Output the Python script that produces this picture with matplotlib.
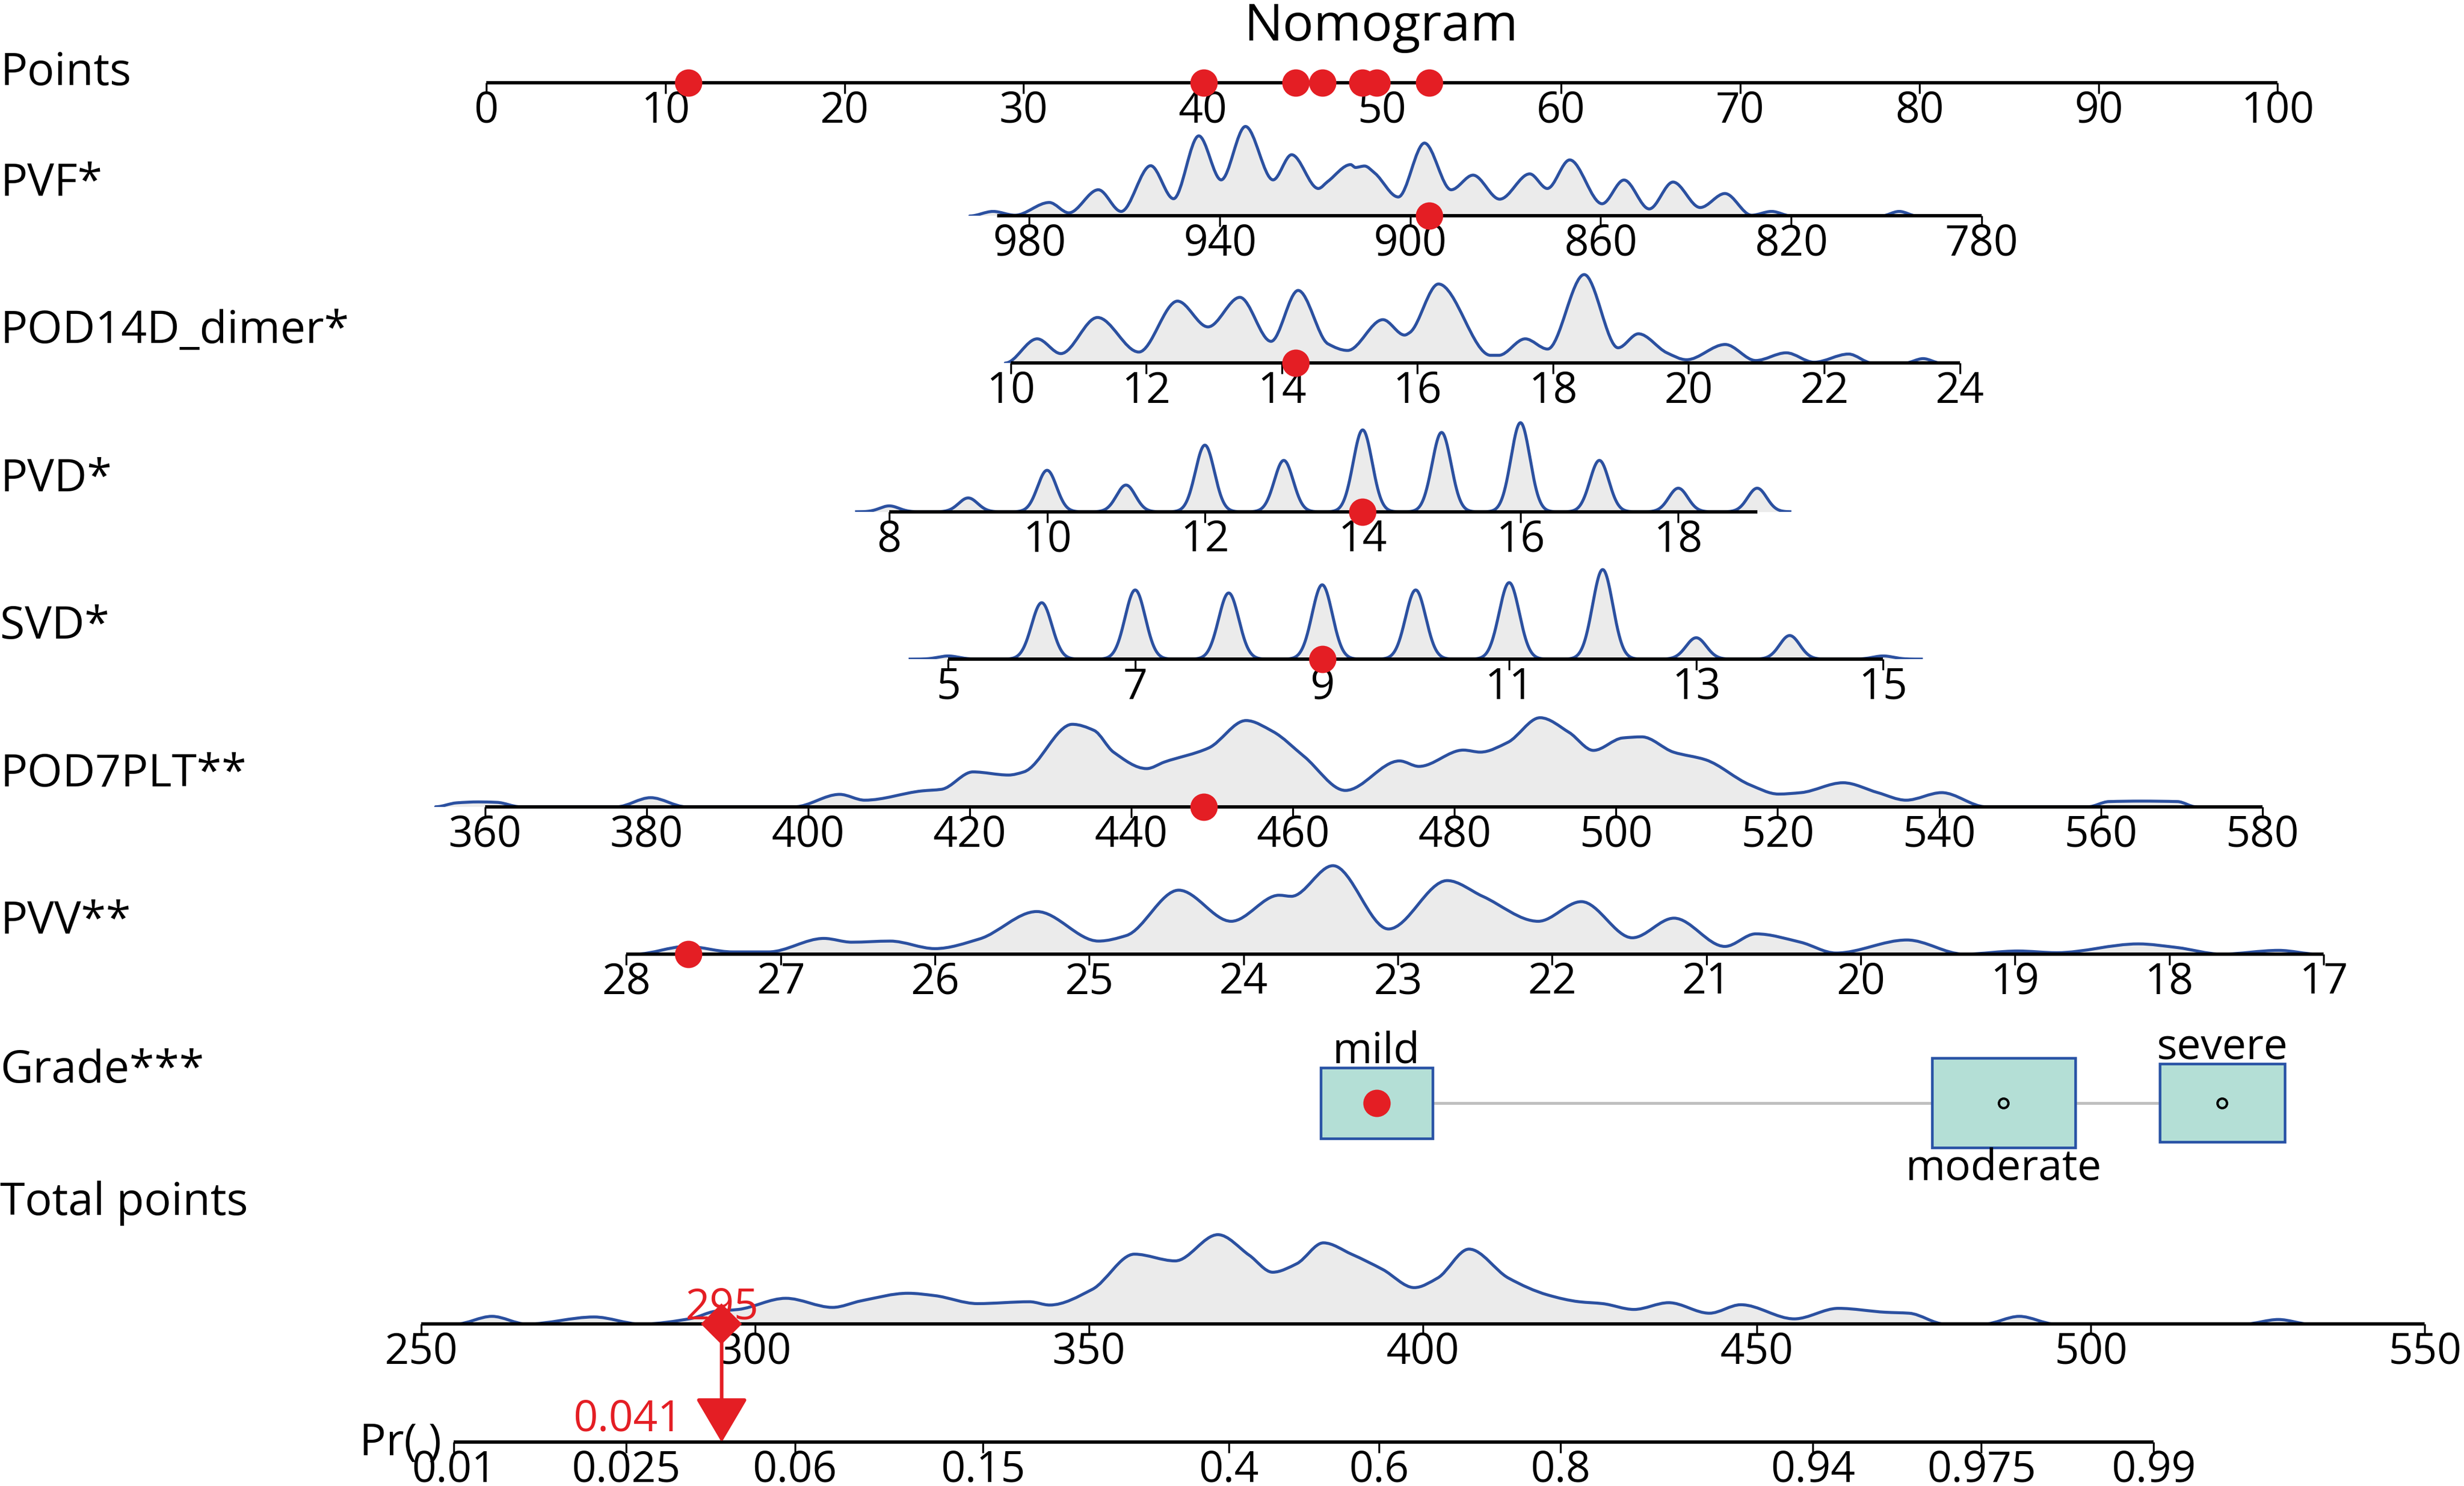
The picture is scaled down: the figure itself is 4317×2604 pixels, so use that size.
import numpy as np
import matplotlib
matplotlib.use("Agg")
import matplotlib.pyplot as plt
import seaborn as sns
from matplotlib.patches import Rectangle, PathPatch
from matplotlib.path import Path

# ---------------- data ----------------
title_text = "Nomogram"
row_labels = ["Points", "PVF*", "POD14D_dimer*", "PVD*", "SVD*",
              "POD7PLT**", "PVV**", "Grade***", "Total points"]

points_ticks = [0, 10, 20, 30, 40, 50, 60, 70, 80, 90, 100]

# PVF (continuous, density curve)
pvf_ticks = [980, 940, 900, 860, 820, 780]
pvf_span = [986.7, 780]
pvf_x = [992.5, 987.6, 983.0, 975.8, 971.7, 965.5, 960.7, 954.5, 949.7, 944.4,
         939.7, 934.6, 928.8, 924.9, 919.3, 917.3, 912.5, 911.5, 909.6, 907.4,
         902.5, 897.0, 891.4, 886.8, 881.2, 874.9, 871.2, 866.5, 859.7, 855.1,
         849.8, 844.8, 839.1, 833.9, 828.3, 824.1, 819.9, 801.1, 797.3, 793.5]
pvf_h = [0, 2.9, 0.5, 8.6, 2.0, 16.7, 2.9, 32.0, 11.0, 51.0,
         23.0, 57.0, 23.0, 39.0, 17.5, 22.0, 32.7, 30.9, 31.8, 27.2,
         12.1, 46.4, 16.7, 26.0, 10.7, 26.8, 17.5, 35.7, 7.8, 22.9,
         4.5, 21.6, 5.4, 14.3, 0.5, 2.9, 0, 0, 2.9, 0]
pvf_obs = 896.0

# POD14D_dimer
dimer_ticks = [10, 12, 14, 16, 18, 20, 22, 24]
dimer_span = [10, 24]
dimer_x = [9.92, 10.39, 10.74, 11.28, 11.89, 12.46, 12.91, 13.38, 13.84, 14.24,
           14.68, 14.97, 15.49, 15.81, 15.89, 16.31, 17.08, 17.20, 17.59, 17.92,
           18.46, 18.96, 19.26, 19.68, 19.97, 20.54, 20.99, 21.44, 21.85, 22.36,
           22.71, 23.19, 23.46, 23.72]
dimer_h = [0, 15.4, 6.0, 29.0, 7.0, 39.4, 23.0, 41.8, 13.8, 46.2,
           12.2, 8.0, 27.6, 17.8, 19.5, 50.3, 4.9, 4.9, 15.4, 8.9,
           56.3, 9.7, 18.6, 6.5, 2.1, 11.8, 1.6, 6.5, 0.5, 5.7,
           0, 0, 2.8, 0]
dimer_obs = 14.2

# PVD (integer valued)
pvd_ticks = [8, 10, 12, 14, 16, 18]
pvd_span = [8, 19]
pvd_values = [8, 9, 10, 11, 12, 13, 14, 15, 16, 17, 18, 19]
pvd_counts = [3.75, 8.8, 26.4, 17.0, 42.4, 32.7, 52.1, 50.5, 56.7, 32.7, 15.0, 15.0]
pvd_obs = 14.0

# SVD (integer valued)
svd_ticks = [5, 7, 9, 11, 13, 15]
svd_span = [5, 15]
svd_values = [5, 6, 7, 8, 9, 10, 11, 12, 13, 14, 15]
svd_counts = [2.0, 35.9, 44.0, 42.1, 47.3, 44.0, 48.7, 57.0, 13.6, 15.0, 2.0]
svd_obs = 9.0

# POD7PLT
plt_ticks = [360, 380, 400, 420, 440, 460, 480, 500, 520, 540, 560, 580]
plt_span = [360, 580]
plt_x = [353.9, 356.5, 359.2, 361.5, 364.4, 376.3, 380.5, 384.9, 398.3, 403.9,
         407.0, 414.1, 416.5, 420.4, 424.8, 426.7, 432.7, 435.4, 437.8, 441.9,
         444.1, 449.6, 454.2, 457.5, 461.4, 466.5, 473.2, 475.6, 481.1, 483.2,
         486.6, 490.6, 494.2, 497.2, 500.8, 503.2, 507.1, 511.1, 516.6, 520.1,
         522.9, 528.1, 532.4, 535.9, 540.3, 545.8, 558.4, 561.0, 565.0, 569.5,
         571.8]
plt_h = [0, 2.5, 3.1, 2.8, 0, 0, 5.8, 0, 0, 7.9,
         4.2, 10.1, 11.1, 22.2, 20.2, 22.2, 52.5, 48.6, 34.8, 24.3,
         28.5, 37.5, 54.9, 48.0, 32.0, 10.4, 29.2, 25.7, 36.1, 34.8,
         41.0, 56.7, 47.3, 35.9, 43.8, 44.5, 34.8, 29.9, 13.9, 8.1,
         9.0, 15.3, 9.0, 4.2, 9.0, 0, 0, 3.3, 3.6, 3.3,
         0]
plt_obs = 449.0

# PVV
pvv_ticks = [28, 27, 26, 25, 24, 23, 22, 21, 20, 19, 18, 17]
pvv_span = [28, 17]
pvv_x = [27.94, 27.61, 27.31, 27.08, 26.72, 26.54, 26.29, 26.00, 25.71, 25.34,
         24.94, 24.76, 24.42, 24.08, 23.77, 23.69, 23.42, 23.06, 22.68, 22.45,
         22.09, 21.81, 21.48, 21.21, 20.88, 20.68, 20.39, 20.16, 19.70, 19.33,
         18.98, 18.73, 18.20, 17.95, 17.66, 17.29, 17.04]
pvv_h = [0, 4.9, 1.4, 1.4, 10.0, 7.6, 8.3, 3.5, 9.7, 27.1,
         8.3, 11.8, 40.7, 20.9, 37.5, 36.8, 56.3, 16.0, 46.8, 36.8,
         20.9, 33.4, 10.4, 22.9, 4.9, 12.9, 7.6, 0.7, 9.0, 0,
         2.0, 0.9, 6.5, 4.2, 0, 2.4, 0]
pvv_obs = 27.6

# Grade (categorical)
grade_levels = ["mild", "moderate", "severe"]
grade_points = [49.7, 84.7, 96.9]
grade_box_w = [6.24, 8.0, 6.97]     # in points
grade_box_h = [45.0, 57.0, 50.0]
grade_obs = "mild"

# Total points
total_ticks = [250, 300, 350, 400, 450, 500, 550]
total_span = [250, 550]
total_x = [255.2, 260.6, 265.8, 275.9, 282.9, 290.5, 294.0, 297.5, 304.6, 311.6,
           315.9, 322.9, 326.9, 333.3, 341.1, 344.1, 350.5, 356.8, 362.9, 369.3,
           374.0, 377.5, 381.1, 385.1, 389.3, 394.0, 398.7, 402.2, 406.9, 412.8,
           418.7, 423.4, 426.9, 431.6, 436.8, 442.9, 447.6, 455.6, 462.2, 469.3,
           472.8, 478.2, 484.0, 489.3, 494.7, 523.0, 528.1, 532.8]
total_h = [0, 4.9, 0, 4.5, 0, 3.6, 8.1, 9.3, 16.4, 10.6,
           14.8, 19.6, 18.1, 13.0, 14.2, 12.1, 22.1, 44.5, 40.2, 56.9,
           43.8, 33.0, 38.4, 51.7, 44.5, 34.7, 23.2, 29.3, 47.7, 29.3,
           18.5, 14.2, 13.0, 9.3, 13.6, 6.9, 12.3, 3.3, 10.0, 7.5,
           6.9, 0, 0, 4.9, 0, 0, 2.9, 0]
total_score = 295

# Probability axis (logistic model: lp = b0 + b1 * total points)
lp_b0 = -13.80
lp_b1 = 0.03611
prob_ticks = [0.01, 0.025, 0.06, 0.15, 0.4, 0.6, 0.8, 0.94, 0.975, 0.99]
prob_labels = ["0.01", "0.025", "0.06", "0.15", "0.4", "0.6", "0.8", "0.94", "0.975", "0.99"]
prob_obs = "0.041"

# ---------------- style / layout ----------------
plt.rcParams['font.family'] = ['Open Sans', 'DejaVu Sans']
RED = '#e41e24'
BLUE = '#2b50a0'
FILL = '#ebebeb'
MINT = '#b4dfd6'
BOXEDGE = '#2852a5'
GREY = '#bfbfbf'
TICK_FS = 18
LABEL_FS = 19
CURVE_LW = 1.25

W, H = 1568.0, 946.0          # layout units of the reference
fig = plt.figure(figsize=(4317 / 300, 2604 / 300), dpi=300)

canvas = fig.add_axes([0, 0, 1, 1])
canvas.set_xlim(0, W)
canvas.set_ylim(H, 0)
canvas.axis('off')

PTS_ANCH = ((0, 309.4), (100, 1449.4))
TOT_ANCH = ((250, 268.0), (550, 1543.0))
layout = {
    "Points": (52.7, PTS_ANCH),
    "PVF": (137.5, ((980, 655.0), (780, 1261.0))),
    "Dimer": (231.1, ((10, 643.2), (24, 1247.1))),
    "PVD": (325.8, ((8, 565.9), (18, 1068.0))),
    "SVD": (419.6, ((5, 603.4), (15, 1198.4))),
    "PLT": (513.6, ((360, 308.6), (580, 1439.7))),
    "PVV": (607.4, ((28, 398.6), (17, 1478.6))),
    "Grade": (702.1, PTS_ANCH),
    "Total": (842.9, TOT_ANCH),
    "Pr": (918.2, TOT_ANCH),
}
label_baselines = [54.3, 124.5, 218.5, 312.8, 406.6, 500.6, 594.4, 689.0, 773.5]


def row_xlim(key):
    (v1, x1), (v2, x2) = layout[key][1]
    s = (x2 - x1) / (v2 - v1)
    return v1 - x1 / s, v1 + (W - x1) / s


def make_row(key, above=75.0, below=0.0):
    base = layout[key][0]
    ax = fig.add_axes([0, 1 - (base + below) / H, 1, (above + below) / H])
    ax.set_facecolor('none')
    ax.set_xlim(*row_xlim(key))
    ax.set_ylim(-below, above)
    for sp in ax.spines.values():
        sp.set_visible(False)
    ax.yaxis.set_visible(False)
    ax.tick_params(axis='x', direction='out', length=4.5, width=0.8, pad=-1.5,
                   labelsize=TICK_FS, colors='black')
    ax.set_xticks([])
    return ax


def axis_line(ax, span, ticks, labels=None, tick_pos=None):
    ax.plot(span, [0, 0], color='black', lw=1.4, solid_capstyle='butt',
            zorder=4, clip_on=False)
    pos = ticks if tick_pos is None else tick_pos
    ax.set_xticks(pos)
    ax.set_xticklabels(labels if labels is not None else [f"{t:g}" for t in ticks])


def smooth_curve_path(xs, ys):
    """Smooth (shape-preserving cubic Bezier) line through the read points."""
    x = np.asarray(xs, float)
    y = np.asarray(ys, float)
    order = np.argsort(x)
    x, y = x[order], y[order]
    dx = np.diff(x)
    d = np.diff(y) / dx
    m = np.zeros_like(x)
    for i in range(1, len(x) - 1):
        if d[i - 1] * d[i] > 0:
            w1 = 2 * dx[i] + dx[i - 1]
            w2 = dx[i] + 2 * dx[i - 1]
            m[i] = (w1 + w2) / (w1 / d[i - 1] + w2 / d[i])
    verts = [(x[0], y[0])]
    codes = [Path.MOVETO]
    for i in range(len(x) - 1):
        h = dx[i]
        verts += [(x[i] + h / 3, y[i] + m[i] * h / 3),
                  (x[i + 1] - h / 3, y[i + 1] - m[i + 1] * h / 3),
                  (x[i + 1], y[i + 1])]
        codes += [Path.CURVE4] * 3
    return verts, codes, x


def density_poly(ax, xs, hs):
    verts, codes, xo = smooth_curve_path(xs, hs)
    fverts = verts + [(xo[-1], 0), (xo[0], 0), (xo[0], 0)]
    fcodes = codes + [Path.LINETO, Path.LINETO, Path.CLOSEPOLY]
    ax.add_patch(PathPatch(Path(fverts, fcodes), facecolor=FILL, edgecolor='none',
                           lw=0, zorder=1))
    ax.add_patch(PathPatch(Path(verts, codes), facecolor='none', edgecolor=BLUE,
                           lw=CURVE_LW, zorder=2, joinstyle='round', capstyle='round'))


def density_kde(ax, vals, weights, sigma, top, cut):
    vals = np.asarray(vals, float)
    w = np.asarray(weights, float)
    sd = np.sqrt(np.cov(vals, aweights=w))
    n0 = len(ax.lines)
    sns.kdeplot(x=vals, weights=w, bw_method=sigma / sd, gridsize=4000, cut=cut,
                ax=ax, color=BLUE, lw=CURVE_LW, zorder=2)
    line = ax.lines[n0]
    xd, yd = line.get_data()
    ax.fill_between(xd, 0, yd, color=FILL, lw=0, zorder=1)
    ax.set_ylim(0, np.max(yd) * top / max(weights))
    ax.set_ylabel('')


def dot(ax, v):
    ax.plot([v], [0], 'o', ms=11.5, color=RED, mew=0, zorder=6, clip_on=False)


# ---- Points row
ax_pts = make_row("Points")
axis_line(ax_pts, [0, 100], points_ticks)

# ---- PVF
ax_pvf = make_row("PVF")
density_poly(ax_pvf, pvf_x, pvf_h)
axis_line(ax_pvf, pvf_span, pvf_ticks)
dot(ax_pvf, pvf_obs)

# ---- D-dimer
ax_dim = make_row("Dimer")
density_poly(ax_dim, dimer_x, dimer_h)
axis_line(ax_dim, dimer_span, dimer_ticks)
dot(ax_dim, dimer_obs)

# ---- PVD
ax_pvd = make_row("PVD")
density_kde(ax_pvd, pvd_values, pvd_counts, 0.12, 75.0, 2.6)
ax_pvd.set_xlim(*row_xlim("PVD"))
axis_line(ax_pvd, pvd_span, pvd_ticks)
dot(ax_pvd, pvd_obs)

# ---- SVD
ax_svd = make_row("SVD")
density_kde(ax_svd, svd_values, svd_counts, 0.108, 75.0, 2.8)
ax_svd.set_xlim(*row_xlim("SVD"))
axis_line(ax_svd, svd_span, svd_ticks)
dot(ax_svd, svd_obs)

# ---- PLT
ax_plt = make_row("PLT")
density_poly(ax_plt, plt_x, plt_h)
axis_line(ax_plt, plt_span, plt_ticks)
dot(ax_plt, plt_obs)

# ---- PVV
ax_pvv = make_row("PVV")
density_poly(ax_pvv, pvv_x, pvv_h)
axis_line(ax_pvv, pvv_span, pvv_ticks)
dot(ax_pvv, pvv_obs)

# ---- Grade
ax_gr = make_row("Grade", above=45.0, below=45.0)
ax_gr.plot([grade_points[0], grade_points[-1]], [0, 0], color=GREY, lw=1.2, zorder=2)
label_side = ["above", "below", "above"]
for lvl, gp, bw, bh, side in zip(grade_levels, grade_points, grade_box_w, grade_box_h, label_side):
    ax_gr.add_patch(Rectangle((gp - bw / 2, -bh / 2), bw, bh, facecolor=MINT,
                              edgecolor=BOXEDGE, lw=1.1, zorder=3))
    if side == "above":
        ax_gr.text(gp, bh / 2 + 2.5, lvl, ha='center', va='baseline', fontsize=TICK_FS, zorder=5)
    else:
        ax_gr.text(gp, -bh / 2 - 21.0, lvl, ha='center', va='baseline', fontsize=TICK_FS, zorder=5)
    if lvl == grade_obs:
        ax_gr.plot([gp], [0], 'o', ms=11.5, color=RED, mew=0, zorder=6)
    else:
        ax_gr.plot([gp], [0], 'o', ms=4, mfc='none', mec='black', mew=1.0, zorder=6)


# ---- red dots on the Points axis (each variable's score)
def to_points(ax, v):
    xd = ax.transData.transform((v, 0))[0]
    return ax_pts.transData.inverted().transform((xd, 0))[0]


scores = [to_points(ax_pvf, pvf_obs), to_points(ax_dim, dimer_obs),
          to_points(ax_pvd, pvd_obs), to_points(ax_svd, svd_obs),
          to_points(ax_plt, plt_obs), to_points(ax_pvv, pvv_obs),
          grade_points[grade_levels.index(grade_obs)]]
ax_pts.plot(scores, [0] * len(scores), 'o', ms=11.5, color=RED, mew=0,
            zorder=6, clip_on=False, ls='none')

# ---- Total points
ax_tot = make_row("Total")
density_poly(ax_tot, total_x, total_h)
axis_line(ax_tot, total_span, total_ticks)
ax_tot.plot([total_score], [0], marker='D', ms=12.2, color=RED, mew=0,
            zorder=7, clip_on=False)
ax_tot.annotate(f"{total_score}", xy=(total_score, 0), xytext=(0, 2.2),
                textcoords='offset points', ha='center', va='baseline',
                color=RED, fontsize=TICK_FS, zorder=8, annotation_clip=False)

# ---- Probability axis
ax_pr = make_row("Pr", above=20.0)
logit = lambda p: np.log(p / (1 - p))
prob_pos = [(logit(p) - lp_b0) / lp_b1 for p in prob_ticks]
axis_line(ax_pr, [prob_pos[0], prob_pos[-1]], prob_ticks, prob_labels, prob_pos)
ax_pr.annotate("", xy=(total_score, 0), xycoords=ax_pr.transData,
               xytext=(total_score, 0), textcoords=ax_tot.transData,
               arrowprops=dict(arrowstyle='-|>,head_length=1.63,head_width=0.96',
                               mutation_scale=10, color=RED, lw=1.5,
                               shrinkA=0, shrinkB=0),
               zorder=6, annotation_clip=False)
ax_pr.annotate(prob_obs, xy=(total_score, 0), xytext=(-16.6, 4.7),
               textcoords='offset points', ha='right', va='baseline',
               color=RED, fontsize=TICK_FS, annotation_clip=False)

# ---- texts on the canvas
canvas.text(878.8, 25.9, title_text, ha='center', va='baseline', fontsize=21.7)
for lab, yb in zip(row_labels, label_baselines):
    canvas.text(0.0, yb, lab, ha='left', va='baseline', fontsize=LABEL_FS)
canvas.text(281.0, 926.3, "Pr( )", ha='right', va='baseline', fontsize=18.5)

fig.savefig("out.png", dpi=300)
